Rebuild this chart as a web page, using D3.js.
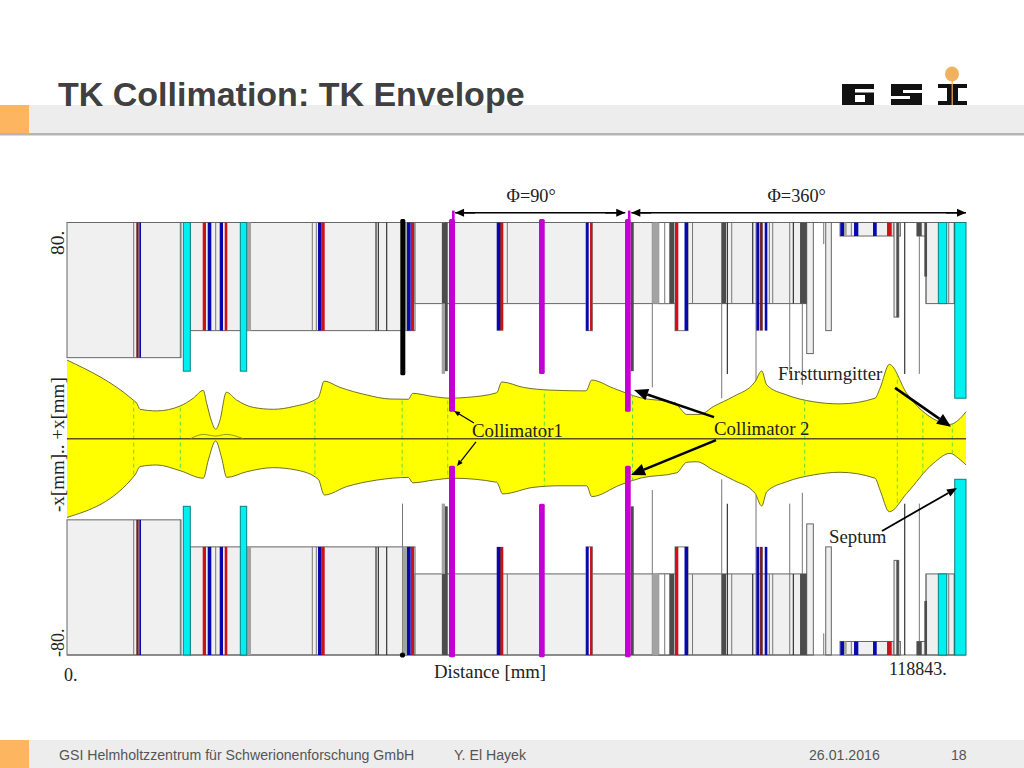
<!DOCTYPE html>
<html><head><meta charset="utf-8">
<script src="https://cdn.jsdelivr.net/npm/d3@7"></script>
<style>html,body{margin:0;padding:0;background:#fff}svg{display:block}</style></head>
<body><svg id="c" width="1024" height="768"></svg>
<script>
const xMax = 118843, yTicks = [80, -80];
const envTopX = [0,8765,9214,9651,11858,14939,16697,18019,18468,19129,19658,20227,21059,22434,24629,27273,29917,33222,33447,33975,36091,39620,42701,45120,45702,48425,50633,52840,56806,57467,60323,63853,68612,69365,72221,75751,80378,81039,81924,83683,85441,88085,90954,91839,92500,95144,98661,102191,106818,107479,108708,111008,114974,116733,117830,118843];
const envTopY = [29.1,14.3,13.2,10.9,10.3,12.1,15,17.9,13.1,6.3,3.5,6.9,17.2,14.3,11.6,10.9,11.9,15.2,16.8,21.3,19,16.2,14.7,14.6,16.8,15.6,15,15.3,17,21,19,18,17.7,21.7,18.7,15.2,13.3,11.3,9,9,11.9,15.6,21.1,25.1,19.9,16.2,13.7,12.9,15,18.7,27.5,16.8,6.7,5.3,6.9,10];
const envBotX = [0,8990,9651,11858,14939,18019,18680,19658,20451,21112,23756,27273,30366,33222,34015,36976,40942,45120,45702,48425,51029,56806,57600,61605,65175,68704,69365,73107,75751,80602,81924,83246,85441,88085,90954,91839,92500,95144,98661,102191,106818,107479,108708,111008,114525,116733,117830,118843];
const envBotY = [-29.1,-13.4,-10.3,-9.7,-11.8,-14.6,-7.9,-0.8,-7.2,-14.3,-12.2,-10.7,-11.6,-15,-20.8,-17.7,-15.3,-14.3,-16.3,-15.3,-14.6,-16.1,-20.4,-18,-17.4,-17.4,-21.4,-17.1,-14.6,-12.6,-8.7,-8.5,-11.6,-15.3,-20.2,-24.9,-19.6,-15.9,-13.4,-12.4,-14.6,-19,-27,-20.2,-9.1,-5.4,-7.2,-9.7];
const centroidX = [16300,18019,19658,21059,23300];
const centroidY = [0,1.6,1,1.6,0];
const greenDashX = [8818,14978,32770,44300,50329,63100,74760,97520,109760,113140,117030];
const chambers = [[0,15071,30],[16300,46006,40],[46006,97788,50],[102191,110162,75],[112370,113560,75],[113560,117354,50]];
const whiteBoxes = [[78223,79677,50],[68612,69445,40],[80378,82096,40]];
const lightBoxes = [[97788,98661,31.5],[100300,101040,40],[109329,109951,45]];
const blueBands = [[9558,9783,30],[18601,19076,40],[20187,20623,40],[33182,33671,40],[44948,45437,40],[56806,57243,40],[68612,68969,40],[81634,82096,40],[91126,91522,40],[92236,92580,40],[102230,102719,75],[104041,104610,75],[106553,107042,75]];
const redBands = [[17940,18376,40],[20848,21192,40],[33711,34068,40],[45477,45873,40],[57375,57679,40],[69141,69445,40],[80378,80814,40],[108404,109025,75]];
const maroonBands = [[9161,9479,30],[57243,57375,40],[91615,91972,40]];
const cyanBands = [[15375,16300,25],[22910,23756,25],[115186,116296,50],[117354,118843,15]];
const magentaBands = [[50500,51294,10],[62398,63152,24],[73768,74521,10]];
const magentaTips = [50900,74150];
const grayBands = [[23756,24325,40],[44380,44948,40],[49535,49972,24],[77377,78223,50],[102719,103072,75]];
const darkBands = [[49972,50329,25],[49575,50196,50],[74521,74918,25],[79677,80245,50],[86551,87120,50],[96903,97788,50],[112330,112991,75],[113335,113692,60],[109633,109951,45]];
const thinGray = [[8818,30],[14978,30],[19658,40],[32429,40],[32957,40],[44353,24],[58208,50],[77377,19],[79016,50],[82691,50],[86551,15],[87873,50],[91086,21],[92844,50],[93294,50],[95541,24],[97207,20],[100036,72],[103684,75],[109237,75],[110162,75],[112674,24],[113560,50],[116561,50]];
const thinBlack = [[40850,40],[41154,40],[42264,40],[87292,24],[90650,50],[96017,50],[110744,24],[117301,50]];
const blackThick = [44062,44723,23.5];
const phiArrows = [[51300,73800,"Φ=90°"],[74600,118843,"Φ=360°"]];
const thinArrows = [[53805,5.8,51161,10.3],[54070,-1.2,51558,-10.1]];
const thickArrows = [[85533,8,74957,18],[85798,-0.5,74561,-13.4],[109462,18.8,116865,4.4]];
const midArrows = [[107743,-34.1,117658,-18.2]];
const notes = [["Collimator1",53541,0.6],["Collimator 2",85533,1.4],["Firstturngitter",93994,21.6],["Septum",100736,-38.6]];
const titleText = "TK Collimation: TK Envelope";
const footerTexts = [["GSI Helmholtzzentrum für Schwerionenforschung GmbH",59],["Y. El Hayek",454],["26.01.2016",809],["18",951]];

const svg = d3.select("#c");
const x = d3.scaleLinear().domain([0,xMax]).range([67,966]);
const y = d3.scaleLinear().domain([-80,80]).range([655,222.5]);
const sans = "'Liberation Sans',Arial,sans-serif", serif = "'Liberation Serif',serif";

// slide chrome
const chrome = svg.append("g");
chrome.append("rect").attr("x",0).attr("y",133).attr("width",1024).attr("height",2.5).attr("fill","#b5b5b5");
chrome.append("rect").attr("x",0).attr("y",105).attr("width",1024).attr("height",28).attr("fill","#ededed");
chrome.append("rect").attr("x",0).attr("y",105).attr("width",29).attr("height",28).attr("fill","#fdb55f");
chrome.append("rect").attr("x",0).attr("y",740).attr("width",1024).attr("height",28).attr("fill","#ededed");
chrome.append("rect").attr("x",0).attr("y",740).attr("width",29).attr("height",28).attr("fill","#fdb55f");
chrome.append("text").text(titleText).attr("x",58).attr("y",106).attr("font-family",sans).attr("font-weight","bold").attr("font-size",34).attr("fill","#404040");
chrome.selectAll(".ft").data(footerTexts).join("text").text(d=>d[0]).attr("x",d=>d[1]).attr("y",760)
  .attr("font-family",sans).attr("font-size",14.15).attr("fill","#555");

// logo
const logo = svg.append("g");
[[842,32],[891,31],[938,29]].forEach(b=>logo.append("rect").attr("x",b[0]).attr("y",84).attr("width",b[1]).attr("height",21).attr("fill","#111"));
[[855,89,19,3.5],[855,95,10,7],[903,90,19,3],[891,96,19,3],[938,88,9,13],[958,88,9,13]].forEach(b=>
  logo.append("rect").attr("x",b[0]).attr("y",b[1]).attr("width",b[2]).attr("height",b[3]).attr("fill","#fff"));
logo.append("rect").attr("x",951.6).attr("y",80).attr("width",1.2).attr("height",25).attr("fill","#f0b050");
logo.append("ellipse").attr("cx",952).attr("cy",74).attr("rx",7).attr("ry",7.5).attr("fill","#f0b25f");

// plot: symmetric elements drawn at +aperture...80 and -80...-aperture
function boxes(data, fill, stroke, sw){
  const g = svg.append("g").attr("fill",fill).attr("stroke",stroke||"none").attr("stroke-width",sw||0);
  [1,-1].forEach(s=>{
    g.selectAll(null).data(data).join("rect")
      .attr("x",d=>x(d[0])).attr("width",d=>x(d[1])-x(d[0]))
      .attr("y",d=>s>0?y(80):y(-d[2])).attr("height",d=>y(d[2])-y(80));
  });
  return g;
}
function lines(data,color,w){
  const g = svg.append("g").attr("stroke",color).attr("stroke-width",w);
  [1,-1].forEach(s=>{
    g.selectAll(null).data(data).join("line").attr("x1",d=>x(d[0])).attr("x2",d=>x(d[0]))
      .attr("y1",y(80*s)).attr("y2",d=>y(d[1]*s));
  });
}
boxes(chambers,"#f0f0f0","#666",1);
boxes(whiteBoxes,"#fff","#777",1);
boxes(lightBoxes,"#efefef","#666",1);
svg.append("g").selectAll("line").data(yTicks).join("line").attr("x1",x(0)).attr("x2",x(xMax))
  .attr("y1",d=>y(d)).attr("y2",d=>y(d)).attr("stroke","#666").attr("stroke-width",1);
lines(thinGray,"#777",1);
lines(thinBlack,"#222",1.1);
boxes(grayBands,"#a3a3a3");
boxes(darkBands,"#4c4c4c");
boxes(blueBands,"#0808b0");
boxes(redBands,"#d01018");
boxes(maroonBands,"#702028");

// envelope
const envPts = envTopX.map((v,i)=>[v,envTopY[i]]);
const envBack = envBotX.map((v,i)=>[v,envBotY[i]]).reverse();
const upper = d3.line().x(d=>x(d[0])).y(d=>y(d[1])).curve(d3.curveMonotoneX);
const area = upper(envPts) + "L" + upper(envBack).slice(1);
svg.append("clipPath").attr("id","env").append("path").attr("d",area+"Z");
svg.append("path").attr("d",area+"Z").attr("fill","#ffff00").attr("stroke","none");
svg.append("path").attr("d",upper(envPts)).attr("fill","none").attr("stroke","#5f5f20").attr("stroke-width",.9);
svg.append("path").attr("d",upper(envBack)).attr("fill","none").attr("stroke","#5f5f20").attr("stroke-width",.9);
svg.append("g").attr("clip-path","url(#env)").selectAll("line").data(greenDashX).join("line")
  .attr("x1",d=>x(d)).attr("x2",d=>x(d)).attr("y1",y(40)).attr("y2",y(-40))
  .attr("stroke","#4fdc3c").attr("stroke-width",.9).attr("stroke-dasharray","4 3");
svg.append("line").attr("x1",x(0)).attr("x2",x(xMax)).attr("y1",y(0)).attr("y2",y(0)).attr("stroke","#55550f").attr("stroke-width",1.4);
svg.append("path").attr("d",upper(centroidX.map((v,i)=>[v,centroidY[i]]))).attr("fill","none").attr("stroke","#8a8a20").attr("stroke-width",.9);

// collimators and septa on top
boxes(cyanBands,"#00f0f0","#0a8080",1);
const mg = svg.append("g").attr("fill","#c400d2");
mg.selectAll(".t").data(magentaBands).join("rect").attr("x",d=>x(d[0])).attr("width",d=>x(d[1])-x(d[0]))
  .attr("y",y(81.3)).attr("height",d=>y(d[2])-y(81.3)).attr("rx",1.5);
mg.selectAll(".b").data(magentaBands).join("rect").attr("x",d=>x(d[0])).attr("width",d=>x(d[1])-x(d[0]))
  .attr("y",d=>y(-d[2])).attr("height",d=>y(-80.8)-y(-d[2])).attr("rx",1.5);
mg.selectAll(".p").data(magentaTips).join("rect").attr("x",d=>x(d)).attr("width",2.6).attr("y",y(84.4)).attr("height",y(81)-y(84.4));
svg.append("rect").attr("x",x(blackThick[0])).attr("width",x(blackThick[1])-x(blackThick[0]))
  .attr("y",y(81.3)).attr("height",y(blackThick[2])-y(81.3)).attr("rx",1.5).attr("fill","#000");
svg.append("circle").attr("cx",x(44353)).attr("cy",y(-80)).attr("r",2.6).attr("fill","#000");

// arrows
function arrow(x1,y1,x2,y2,w,len,wid){
  const a=Math.atan2(y2-y1,x2-x1), c=Math.cos(a), s=Math.sin(a);
  const bx=x2-c*len, by=y2-s*len;
  svg.append("line").attr("x1",x1).attr("y1",y1).attr("x2",bx).attr("y2",by).attr("stroke","#000").attr("stroke-width",w);
  svg.append("path").attr("d",d3.line()([[x2,y2],[bx-s*wid,by+c*wid],[bx+s*wid,by-c*wid]])+"Z").attr("fill","#000");
}
phiArrows.forEach(d=>{
  arrow(x(d[0]),y(83.6),x(d[1]),y(83.6),1.6,0,0);
  arrow(x(d[0])+20,y(83.6),x(d[0]),y(83.6),1.6,9,4);
  arrow(x(d[1])-20,y(83.6),x(d[1]),y(83.6),1.6,9,4);
  svg.append("text").text(d[2]).attr("x",(x(d[0])+x(d[1]))/2+(d[0]>60000?-2:-9)).attr("y",y(87.4)).attr("text-anchor","middle")
    .attr("font-family",serif).attr("font-size",18.3).attr("fill","#222");
});
thinArrows.forEach(d=>arrow(x(d[0]),y(d[1]),x(d[2]),y(d[3]),1.2,6,2.5));
thickArrows.forEach(d=>arrow(x(d[0]),y(d[1]),x(d[2]),y(d[3]),2.6,14,6));
midArrows.forEach(d=>arrow(x(d[0]),y(d[1]),x(d[2]),y(d[3]),1.8,10,4));

// texts
const T=(s,px,py,fs,rot)=>svg.append("text").text(s).attr("font-family",serif).attr("font-size",fs).attr("fill","#222")
  .attr("transform",`translate(${px},${py})`+(rot?` rotate(${rot})`:""));
notes.forEach(d=>T(d[0],x(d[1]),y(d[2]),18.8));
yTicks.forEach(d=>T(d+".",64,d>0?255:657,d>0?19.5:18,-90));
T("-x[mm].. +x[mm]",64,512,19,-90);
T("0.",64,681,18);
T(xMax+".",889,675,18);
T("Distance [mm]",434,678,18.8);
</script></body></html>
